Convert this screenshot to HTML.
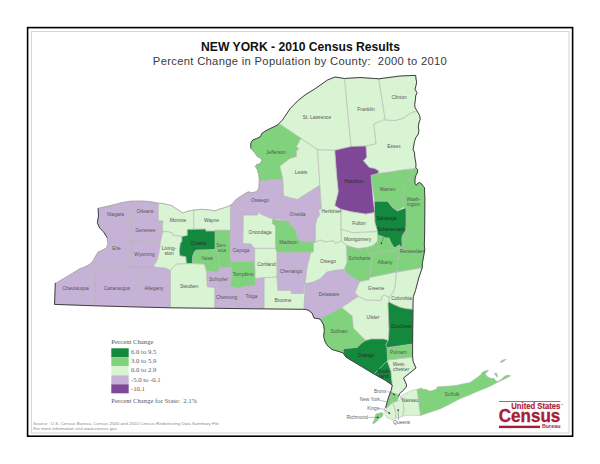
<!DOCTYPE html>
<html><head><meta charset="utf-8"><style>
html,body{margin:0;padding:0;background:#fff;}
body{width:600px;height:464px;overflow:hidden;position:relative;}
svg{position:absolute;left:0;top:0;}
</style></head><body>
<svg width="600" height="464" viewBox="0 0 600 464">
<rect x="0" y="0" width="600" height="464" fill="#fff"/>
<rect x="27.6" y="27.6" width="545" height="408.6" fill="none" stroke="#000" stroke-width="1.6"/>
<rect x="31.5" y="31.5" width="537.5" height="401.5" fill="none" stroke="#d4d4d4" stroke-width="1"/>
<text x="300.5" y="50.6" text-anchor="middle" font-family="'Liberation Sans', sans-serif" font-weight="bold" font-size="12.15" fill="#111">NEW YORK - 2010 Census Results</text>
<text x="300" y="65.1" text-anchor="middle" font-family="'Liberation Sans', sans-serif" font-size="11.2" letter-spacing="0.33" fill="#3a3a3a">Percent Change in Population by County:&#160; 2000 to 2010</text>
<g stroke="none">
<polygon points="98.1,208.3 110.3,205.6 122.4,202.5 130.7,201.2 130.7,222.1 117.7,223.4 111.8,226.0 107.1,225.6 99.6,224.1 97.3,222.6 98.5,216.1" fill="#c6b2d6"/>
<polygon points="130.7,201.2 140.0,201.0 150.0,201.5 158.3,203.3 158.2,219.7 158.3,221.0 130.7,221.8" fill="#c6b2d6"/>
<polygon points="130.7,221.8 158.3,221.0 162.9,220.9 162.3,226.8 162.9,231.6 161.1,238.7 160.5,240.5 130.7,241.0" fill="#c6b2d6"/>
<polygon points="130.7,241.0 160.5,240.5 160.0,245.8 158.8,252.9 157.6,258.8 155.8,262.4 154.0,264.7 153.8,267.1 130.5,267.1" fill="#c6b2d6"/>
<polygon points="99.6,224.1 107.1,225.6 111.8,226.0 117.7,223.4 130.7,222.1 130.7,221.8 130.7,241.0 130.5,267.1 129.9,267.1 113.3,270.2 105.8,271.7 99.8,267.9 95.2,262.6 92.3,261.8 93.5,260.0 95.8,255.8 98.1,252.0 106.4,248.2 107.9,243.7 107.1,237.7 106.4,236.2 103.4,231.7 99.6,227.9 97.3,222.6" fill="#c6b2d6"/>
<polygon points="56.0,283.0 65.1,277.7 72.6,273.2 80.2,268.5 83.0,267.8 89.0,264.8 92.3,261.8 95.2,262.6 94.8,305.8 54.5,304.4 55.3,283.0" fill="#c6b2d6"/>
<polygon points="95.2,262.6 99.8,267.9 105.8,271.7 113.3,270.2 129.9,267.1 138.2,267.1 138.2,307.0 94.8,305.8" fill="#c6b2d6"/>
<polygon points="138.2,267.1 153.8,267.1 165.0,268.0 170.5,270.5 170.5,307.8 138.2,307.0" fill="#c6b2d6"/>
<polygon points="162.9,231.6 167.6,231.6 172.4,232.8 173.0,235.1 177.1,235.7 181.9,236.4 181.9,241.8 180.4,242.8 179.4,250.7 179.9,255.7 185.9,256.7 186.4,263.6 176.4,264.1 172.6,267.5 170.5,270.5 165.0,268.0 153.8,267.1 154.0,264.7 155.8,262.4 157.6,258.8 158.8,252.9 160.0,245.8 160.5,240.5 161.1,238.7" fill="#d9f4d2"/>
<polygon points="158.3,203.3 161.7,203.3 168.3,204.7 172.3,206.0 176.3,208.7 183.0,213.1 187.0,211.3 193.7,210.0 193.7,229.3 187.3,229.4 187.3,235.4 181.9,236.4 177.1,235.7 173.0,235.1 172.4,232.8 167.6,231.6 162.9,231.6 162.3,226.8 162.9,220.9 158.3,221.0" fill="#d9f4d2"/>
<polygon points="193.7,210.0 201.7,209.3 208.3,209.7 215.0,210.9 219.0,209.3 225.7,207.3 229.7,205.6 230.3,205.2 230.6,230.3 215.1,230.3 215.1,231.1 205.9,231.1 205.7,229.1 193.7,229.3" fill="#d9f4d2"/>
<polygon points="187.3,229.4 205.7,229.1 205.9,231.1 215.1,231.1 215.1,249.3 211.6,249.8 196.8,250.0 194.8,251.2 192.8,255.7 192.3,263.6 186.4,263.6 185.9,256.7 179.9,255.7 179.4,250.7 180.4,242.8 181.9,241.8 181.9,236.4 187.3,235.4" fill="#13893d"/>
<polygon points="192.8,255.7 194.8,251.2 196.8,250.0 211.6,249.8 215.1,249.3 216.3,250.5 218.6,255.0 219.4,268.0 217.8,272.4 213.3,271.7 206.5,271.0 204.3,264.1 192.3,263.6" fill="#80d37c"/>
<polygon points="215.1,230.3 230.6,230.3 229.9,240.0 230.4,261.3 231.4,268.0 228.4,267.1 219.4,268.0 218.6,255.0 216.3,250.5 215.1,249.3" fill="#80d37c"/>
<polygon points="176.4,264.1 186.4,263.6 192.3,263.6 204.3,264.1 206.5,271.0 207.3,286.7 214.8,287.5 214.8,308.3 170.5,307.8 170.5,270.5 172.6,267.5" fill="#d9f4d2"/>
<polygon points="206.5,271.0 213.3,271.7 217.8,272.4 219.4,268.0 228.4,267.1 231.4,268.0 231.0,286.7 214.8,287.5 207.3,286.7" fill="#c6b2d6"/>
<polygon points="214.8,287.5 231.0,286.7 238.6,288.2 239.0,308.6 214.8,308.3" fill="#c6b2d6"/>
<polygon points="230.4,261.3 254.6,261.3 255.1,278.4 255.9,285.2 245.0,286.5 238.6,288.2 231.0,286.7 231.4,268.0" fill="#80d37c"/>
<polygon points="238.6,288.2 245.0,286.5 255.9,285.2 255.1,278.4 264.2,277.7 264.0,308.9 239.0,308.6" fill="#c6b2d6"/>
<polygon points="230.3,205.2 232.0,204.3 234.0,201.7 236.5,199.0 236.2,212.6 243.3,212.6 242.8,243.5 250.9,244.1 254.6,248.4 254.6,261.3 230.4,261.3 229.9,240.0 230.6,230.3" fill="#c6b2d6"/>
<polygon points="259.2,180.5 269.2,180.5 270.0,179.0 282.8,179.8 283.6,195.0 280.6,195.1 277.7,208.4 277.7,219.1 272.9,219.1 267.0,216.7 261.1,214.3 258.7,212.0 257.5,215.0 243.3,215.0 243.3,212.6 236.2,212.6 236.5,199.0 240.7,196.3 244.0,194.3 246.7,192.5 249.3,191.7 250.7,192.5 252.7,192.7 256.0,191.7 258.0,190.0 259.0,187.0" fill="#c6b2d6"/>
<polygon points="243.3,215.0 257.5,215.0 258.7,212.0 261.1,214.3 267.0,216.7 272.9,219.1 272.4,223.6 275.6,225.8 275.6,248.4 254.6,248.4 250.9,244.1 242.8,243.5" fill="#d9f4d2"/>
<polygon points="254.6,248.4 275.6,248.4 277.0,252.7 277.0,277.0 264.2,277.7 255.1,278.4 254.6,261.3" fill="#d9f4d2"/>
<polygon points="272.9,219.1 282.0,220.8 288.1,220.8 291.1,225.3 295.7,229.8 297.2,237.4 302.5,241.9 313.5,241.9 313.5,251.8 310.3,252.7 277.0,252.7 275.6,248.4 275.6,225.8 272.4,223.6" fill="#80d37c"/>
<polygon points="277.0,252.7 310.3,252.7 309.4,258.6 307.9,262.6 306.4,272.0 305.2,283.8 304.1,285.2 303.4,293.5 291.3,293.5 291.3,290.5 277.8,290.5 277.0,277.0" fill="#c6b2d6"/>
<polygon points="264.2,277.7 277.0,277.0 277.8,290.5 291.3,290.5 291.3,293.5 303.4,293.5 304.1,285.2 305.2,283.8 304.0,309.3 264.0,308.9" fill="#d9f4d2"/>
<polygon points="280.6,195.1 297.2,199.6 319.8,185.3 321.3,208.7 318.3,210.2 319.8,214.7 316.8,219.2 315.3,225.3 315.3,241.9 313.5,241.9 302.5,241.9 297.2,237.4 295.7,229.8 291.1,225.3 288.1,220.8 282.0,220.8 277.7,219.1 277.7,208.4" fill="#c6b2d6"/>
<polygon points="282.8,179.8 279.8,166.2 289.6,158.6 296.3,156.4 296.3,151.1 298.6,148.8 296.3,146.6 300.9,138.3 317.4,149.6 319.8,185.3 297.2,199.6 280.6,195.1 283.6,195.0" fill="#d9f4d2"/>
<polygon points="265.7,130.8 261.8,133.4 260.5,136.6 256.6,138.6 252.8,139.9 250.8,143.1 250.8,148.3 252.8,150.9 255.3,153.5 257.3,156.7 260.5,158.0 261.8,160.6 259.9,163.8 256.6,164.5 255.3,166.4 257.3,169.6 258.6,174.2 259.2,178.5 259.2,180.5 269.2,180.5 270.0,179.0 282.8,179.8 279.8,166.2 289.6,158.6 296.3,156.4 296.3,151.1 298.6,148.8 296.3,146.6 300.9,138.3 280.0,124.2 277.5,125.0 270.9,128.2" fill="#80d37c"/>
<polygon points="277.5,125.0 282.5,120.0 290.0,108.8 297.5,101.0 305.0,95.0 315.0,88.8 327.5,80.0 335.0,77.0 344.5,78.5 351.0,146.5 334.8,150.3 317.4,149.6 300.9,138.3 280.0,124.2" fill="#d9f4d2"/>
<polygon points="344.5,78.5 360.0,77.5 378.8,78.8 385.0,119.0 373.8,123.8 376.0,143.8 365.9,146.0 351.0,146.5" fill="#d9f4d2"/>
<polygon points="378.8,78.8 400.0,76.0 415.7,75.4 416.0,79.0 416.7,82.3 415.7,86.8 415.0,89.4 417.0,92.6 415.7,95.9 415.4,99.8 414.7,104.3 415.0,107.5 417.4,111.5 412.5,112.0 409.2,114.0 402.8,118.5 395.0,120.5 385.0,120.0 385.0,119.0" fill="#d9f4d2"/>
<polygon points="373.8,123.8 385.0,120.0 395.0,120.5 402.8,118.5 409.2,114.0 412.5,112.0 417.4,111.5 419.6,115.3 420.2,119.2 418.9,123.0 418.3,126.9 418.9,130.2 418.3,134.0 415.7,137.9 414.4,141.8 413.1,149.6 414.4,152.2 415.0,158.6 415.4,160.0 415.9,163.4 415.9,167.8 415.0,168.2 402.9,169.9 390.0,172.1 378.0,173.6 378.8,171.0 374.5,168.4 369.3,167.6 363.3,160.7 366.7,157.2 365.9,146.0 376.0,143.8" fill="#d9f4d2"/>
<polygon points="334.8,150.3 351.0,146.5 365.9,146.0 366.7,157.2 363.3,160.7 369.3,167.6 374.5,168.4 378.8,171.0 378.0,173.6 371.0,175.3 372.8,196.9 374.5,212.4 365.9,214.1 350.3,211.6 340.0,209.0 334.8,205.5 338.3,191.7 336.6,174.5" fill="#7f4897"/>
<polygon points="317.4,149.6 334.8,150.3 336.6,174.5 338.3,191.7 334.8,205.5 340.0,209.0 341.0,209.3 341.0,212.5 340.9,229.1 341.5,241.0 335.5,243.4 333.8,240.9 325.4,241.8 320.3,240.0 314.5,242.6 315.3,241.9 315.3,225.3 316.8,219.2 319.8,214.7 318.3,210.2 321.3,208.7 319.8,185.3" fill="#d9f4d2"/>
<polygon points="340.0,209.0 350.3,211.6 365.9,214.1 374.5,212.4 375.0,222.5 377.6,231.5 352.8,232.7 340.9,229.1 341.0,212.5 341.0,209.3" fill="#d9f4d2"/>
<polygon points="340.9,229.1 352.8,232.7 377.6,231.5 377.6,241.0 372.9,245.7 367.0,247.5 357.5,248.6 346.8,245.7 341.5,241.0" fill="#d9f4d2"/>
<polygon points="371.0,175.3 378.0,173.6 390.0,172.1 402.9,169.9 412.0,169.3 410.7,177.2 407.2,183.3 403.8,187.6 402.9,194.5 402.9,200.0 403.2,207.3 397.5,211.0 392.5,207.5 387.5,201.2 374.5,201.2" fill="#80d37c"/>
<polygon points="412.0,169.3 415.0,168.2 415.9,167.8 417.6,169.5 417.6,172.1 415.9,175.5 415.0,179.0 415.0,183.3 416.3,185.4 417.6,183.3 419.7,182.6 421.5,183.7 422.8,185.9 424.5,187.6 424.9,200.0 424.6,235.0 421.0,235.0 402.5,235.0 404.0,233.6 405.3,229.3 406.2,225.0 406.0,208.8 405.0,208.0 403.2,207.3 402.9,200.0 402.9,194.5 403.8,187.6 407.2,183.3 410.7,177.2" fill="#80d37c"/>
<polygon points="374.5,201.2 387.5,201.2 392.5,207.5 397.5,211.0 405.0,208.0 406.0,208.8 406.2,225.0 405.3,229.3 404.0,233.6 401.9,237.1 401.9,242.2 402.3,246.6 401.0,247.0 399.3,244.8 397.6,246.1 395.0,247.8 393.3,246.6 390.7,242.2 389.0,237.9 385.5,237.9 382.9,236.6 377.8,235.3 377.6,231.5 375.0,222.5 374.5,212.4" fill="#13893d"/>
<polygon points="377.8,235.3 382.9,236.6 385.5,237.9 389.0,237.9 390.7,242.2 393.3,246.6 395.0,247.8 397.6,246.1 399.3,244.8 401.0,247.0 400.2,248.5 399.0,248.6 391.9,250.4 374.1,253.4 368.2,252.8 367.0,247.5 372.9,245.7 377.6,241.0" fill="#80d37c"/>
<polygon points="346.8,245.7 357.5,248.6 367.0,247.5 368.2,252.8 374.1,253.4 371.7,261.1 369.9,277.0 369.1,279.8 362.6,281.0 359.6,281.5 349.0,275.0 344.2,269.7 347.2,262.0 346.4,245.1" fill="#80d37c"/>
<polygon points="374.1,253.4 391.9,250.4 399.0,248.6 400.2,248.5 400.1,250.4 398.7,255.2 397.8,263.5 396.6,270.0 396.3,272.1 369.7,277.4 369.9,277.0 371.7,261.1" fill="#80d37c"/>
<polygon points="402.5,235.0 421.0,235.0 424.6,235.0 424.3,245.0 424.8,250.0 422.3,263.6 422.3,267.8 396.3,272.1 396.6,270.0 397.8,263.5 398.7,255.2 400.1,250.4 400.2,248.5 401.0,247.0 402.3,246.6 401.9,242.2 401.9,237.1 404.0,233.6" fill="#80d37c"/>
<polygon points="314.5,242.6 320.3,240.0 325.4,241.8 333.8,240.9 335.5,243.4 341.5,241.0 346.8,245.7 346.4,245.1 347.2,262.0 343.9,269.5 335.5,270.3 327.0,272.0 320.3,278.7 313.6,282.1 305.2,283.8 306.4,272.0 307.9,262.6 309.4,258.6 310.3,252.7 313.5,251.8 313.5,241.9" fill="#d9f4d2"/>
<polygon points="305.2,283.8 313.6,282.1 320.3,278.7 327.0,272.0 335.5,270.3 343.9,269.5 344.2,269.7 349.0,275.0 359.6,281.5 354.9,292.8 358.4,296.3 341.5,307.5 320.0,319.0 314.0,318.0 312.0,313.0 308.0,310.0 304.0,309.3" fill="#c6b2d6"/>
<polygon points="359.6,281.5 362.6,281.0 369.1,279.8 369.7,277.4 396.3,272.1 395.1,286.9 392.8,292.8 389.2,297.5 384.5,295.2 382.1,296.3 380.9,300.5 365.5,299.9 358.4,296.3 354.9,292.8" fill="#d9f4d2"/>
<polygon points="396.3,272.1 422.3,267.8 419.0,277.0 415.5,290.5 413.3,296.7 413.0,303.3 413.0,309.3 406.7,308.7 400.0,307.3 393.3,304.3 389.0,302.0 389.2,297.5 392.8,292.8 395.1,286.9" fill="#d9f4d2"/>
<polygon points="341.5,307.5 358.4,296.3 365.5,299.9 380.9,300.5 382.1,296.3 384.5,295.2 389.2,297.5 389.0,302.0 388.0,303.0 389.0,330.0 388.3,340.5 383.8,339.0 371.2,339.0 365.6,340.4 362.8,337.6 353.0,328.0 353.0,325.0 352.0,316.0" fill="#d9f4d2"/>
<polygon points="320.0,319.0 341.5,307.5 352.0,316.0 353.0,325.0 353.0,328.0 362.8,337.6 365.6,340.4 361.4,343.2 357.2,347.4 343.2,348.8 343.2,353.0 339.0,351.6 332.0,349.5 327.8,346.0 325.0,341.8 323.6,336.2 324.3,330.6 323.6,325.0 322.0,322.0" fill="#80d37c"/>
<polygon points="388.0,303.0 389.0,302.0 393.3,304.3 400.0,307.3 406.7,308.7 413.0,309.3 412.6,344.0 387.0,347.7 385.7,345.0 388.3,340.5 389.0,330.0" fill="#13893d"/>
<polygon points="387.0,347.7 412.6,344.0 412.6,357.1 387.5,360.1 387.2,351.9" fill="#80d37c"/>
<polygon points="343.2,348.8 357.2,347.4 361.4,343.2 365.6,340.4 371.2,339.0 383.8,339.0 388.3,340.5 385.7,345.0 387.0,347.7 387.2,351.9 387.5,360.1 387.4,360.7 374.0,374.0 360.0,365.6 346.0,357.2 343.2,353.0" fill="#13893d"/>
<polygon points="374.0,374.0 387.4,360.7 387.5,362.0 390.9,371.2 392.3,385.2 385.3,380.3" fill="#13893d"/>
<polygon points="387.5,360.1 412.6,357.1 413.2,361.6 416.0,368.0 403.5,378.0 406.7,385.0 405.9,387.6 402.4,391.0 399.8,393.6 398.5,396.2 398.5,395.3 391.5,392.5 392.5,385.0 392.3,385.2 390.9,371.2" fill="#d9f4d2"/>
<polygon points="391.6,392.6 395.9,393.7 399.2,395.8 398.6,398.0 397.0,401.3 392.7,402.3 390.5,398.0 390.5,395.8" fill="#80d37c"/>
<polygon points="391.6,392.6 390.5,395.8 390.5,398.0 392.7,402.3 389.4,405.6 386.2,408.3 385.6,407.8 388.3,398.0 390.5,391.5" fill="#80d37c"/>
<polygon points="392.7,402.3 397.0,401.3 400.7,399.2 400.7,396.2 403.3,402.2 403.5,404.5 404.0,411.0 402.4,416.4 399.2,417.5 395.9,418.6 395.9,414.3 394.8,408.3" fill="#d9f4d2"/>
<polygon points="389.4,405.6 392.7,402.3 394.8,408.3 395.9,414.3 395.9,418.6 391.6,419.7 386.7,417.5 385.1,413.7 384.5,408.3 386.2,408.3" fill="#d9f4d2"/>
<polygon points="400.7,396.2 403.3,394.5 406.7,392.8 410.2,391.0 416.2,389.3 417.1,389.4 420.5,415.5 414.5,415.4 410.0,415.3 405.9,415.6 402.4,416.4 404.0,411.0 403.5,404.5 403.3,402.2" fill="#d9f4d2"/>
<polygon points="417.1,389.4 421.0,388.0 422.5,388.5 423.0,389.5 425.0,389.0 430.0,391.0 434.0,390.0 436.5,389.0 437.0,387.0 440.0,386.5 450.0,386.0 458.0,385.0 462.0,384.0 470.0,382.5 476.7,377.8 481.0,374.5 482.1,372.3 484.3,371.3 487.5,370.2 488.6,370.7 485.9,372.9 485.3,374.0 487.5,376.7 490.8,378.3 494.0,378.3 495.6,380.5 497.3,381.5 500.5,379.9 504.8,376.1 508.1,375.0 510.8,375.6 509.2,376.7 502.7,379.9 498.3,382.1 487.5,387.5 476.7,391.8 470.0,394.8 460.0,398.8 450.0,404.0 440.0,409.0 428.0,413.0 420.5,415.5" fill="#80d37c"/>
<polygon points="376.4,413.7 381.8,412.6 383.5,413.7 382.4,416.4 379.7,418.6 376.4,421.8 373.2,424.0 372.6,422.9 374.8,418.6 375.3,415.3" fill="#80d37c"/>
<polygon points="494.0,373.5 496.5,373.0 497.8,376.5 496.8,377.2 495.5,375.0" fill="#80d37c"/>
<polygon points="500.0,362.4 502.0,360.3 506.0,359.0 505.0,360.5 501.5,362.5" fill="#80d37c"/>
</g>
<g fill="none" stroke="#b4b4b4" stroke-width="0.45" stroke-linejoin="round">
<polygon points="98.1,208.3 110.3,205.6 122.4,202.5 130.7,201.2 130.7,222.1 117.7,223.4 111.8,226.0 107.1,225.6 99.6,224.1 97.3,222.6 98.5,216.1"/>
<polygon points="130.7,201.2 140.0,201.0 150.0,201.5 158.3,203.3 158.2,219.7 158.3,221.0 130.7,221.8"/>
<polygon points="130.7,221.8 158.3,221.0 162.9,220.9 162.3,226.8 162.9,231.6 161.1,238.7 160.5,240.5 130.7,241.0"/>
<polygon points="130.7,241.0 160.5,240.5 160.0,245.8 158.8,252.9 157.6,258.8 155.8,262.4 154.0,264.7 153.8,267.1 130.5,267.1"/>
<polygon points="99.6,224.1 107.1,225.6 111.8,226.0 117.7,223.4 130.7,222.1 130.7,221.8 130.7,241.0 130.5,267.1 129.9,267.1 113.3,270.2 105.8,271.7 99.8,267.9 95.2,262.6 92.3,261.8 93.5,260.0 95.8,255.8 98.1,252.0 106.4,248.2 107.9,243.7 107.1,237.7 106.4,236.2 103.4,231.7 99.6,227.9 97.3,222.6"/>
<polygon points="56.0,283.0 65.1,277.7 72.6,273.2 80.2,268.5 83.0,267.8 89.0,264.8 92.3,261.8 95.2,262.6 94.8,305.8 54.5,304.4 55.3,283.0"/>
<polygon points="95.2,262.6 99.8,267.9 105.8,271.7 113.3,270.2 129.9,267.1 138.2,267.1 138.2,307.0 94.8,305.8"/>
<polygon points="138.2,267.1 153.8,267.1 165.0,268.0 170.5,270.5 170.5,307.8 138.2,307.0"/>
<polygon points="162.9,231.6 167.6,231.6 172.4,232.8 173.0,235.1 177.1,235.7 181.9,236.4 181.9,241.8 180.4,242.8 179.4,250.7 179.9,255.7 185.9,256.7 186.4,263.6 176.4,264.1 172.6,267.5 170.5,270.5 165.0,268.0 153.8,267.1 154.0,264.7 155.8,262.4 157.6,258.8 158.8,252.9 160.0,245.8 160.5,240.5 161.1,238.7"/>
<polygon points="158.3,203.3 161.7,203.3 168.3,204.7 172.3,206.0 176.3,208.7 183.0,213.1 187.0,211.3 193.7,210.0 193.7,229.3 187.3,229.4 187.3,235.4 181.9,236.4 177.1,235.7 173.0,235.1 172.4,232.8 167.6,231.6 162.9,231.6 162.3,226.8 162.9,220.9 158.3,221.0"/>
<polygon points="193.7,210.0 201.7,209.3 208.3,209.7 215.0,210.9 219.0,209.3 225.7,207.3 229.7,205.6 230.3,205.2 230.6,230.3 215.1,230.3 215.1,231.1 205.9,231.1 205.7,229.1 193.7,229.3"/>
<polygon points="187.3,229.4 205.7,229.1 205.9,231.1 215.1,231.1 215.1,249.3 211.6,249.8 196.8,250.0 194.8,251.2 192.8,255.7 192.3,263.6 186.4,263.6 185.9,256.7 179.9,255.7 179.4,250.7 180.4,242.8 181.9,241.8 181.9,236.4 187.3,235.4"/>
<polygon points="192.8,255.7 194.8,251.2 196.8,250.0 211.6,249.8 215.1,249.3 216.3,250.5 218.6,255.0 219.4,268.0 217.8,272.4 213.3,271.7 206.5,271.0 204.3,264.1 192.3,263.6"/>
<polygon points="215.1,230.3 230.6,230.3 229.9,240.0 230.4,261.3 231.4,268.0 228.4,267.1 219.4,268.0 218.6,255.0 216.3,250.5 215.1,249.3"/>
<polygon points="176.4,264.1 186.4,263.6 192.3,263.6 204.3,264.1 206.5,271.0 207.3,286.7 214.8,287.5 214.8,308.3 170.5,307.8 170.5,270.5 172.6,267.5"/>
<polygon points="206.5,271.0 213.3,271.7 217.8,272.4 219.4,268.0 228.4,267.1 231.4,268.0 231.0,286.7 214.8,287.5 207.3,286.7"/>
<polygon points="214.8,287.5 231.0,286.7 238.6,288.2 239.0,308.6 214.8,308.3"/>
<polygon points="230.4,261.3 254.6,261.3 255.1,278.4 255.9,285.2 245.0,286.5 238.6,288.2 231.0,286.7 231.4,268.0"/>
<polygon points="238.6,288.2 245.0,286.5 255.9,285.2 255.1,278.4 264.2,277.7 264.0,308.9 239.0,308.6"/>
<polygon points="230.3,205.2 232.0,204.3 234.0,201.7 236.5,199.0 236.2,212.6 243.3,212.6 242.8,243.5 250.9,244.1 254.6,248.4 254.6,261.3 230.4,261.3 229.9,240.0 230.6,230.3"/>
<polygon points="259.2,180.5 269.2,180.5 270.0,179.0 282.8,179.8 283.6,195.0 280.6,195.1 277.7,208.4 277.7,219.1 272.9,219.1 267.0,216.7 261.1,214.3 258.7,212.0 257.5,215.0 243.3,215.0 243.3,212.6 236.2,212.6 236.5,199.0 240.7,196.3 244.0,194.3 246.7,192.5 249.3,191.7 250.7,192.5 252.7,192.7 256.0,191.7 258.0,190.0 259.0,187.0"/>
<polygon points="243.3,215.0 257.5,215.0 258.7,212.0 261.1,214.3 267.0,216.7 272.9,219.1 272.4,223.6 275.6,225.8 275.6,248.4 254.6,248.4 250.9,244.1 242.8,243.5"/>
<polygon points="254.6,248.4 275.6,248.4 277.0,252.7 277.0,277.0 264.2,277.7 255.1,278.4 254.6,261.3"/>
<polygon points="272.9,219.1 282.0,220.8 288.1,220.8 291.1,225.3 295.7,229.8 297.2,237.4 302.5,241.9 313.5,241.9 313.5,251.8 310.3,252.7 277.0,252.7 275.6,248.4 275.6,225.8 272.4,223.6"/>
<polygon points="277.0,252.7 310.3,252.7 309.4,258.6 307.9,262.6 306.4,272.0 305.2,283.8 304.1,285.2 303.4,293.5 291.3,293.5 291.3,290.5 277.8,290.5 277.0,277.0"/>
<polygon points="264.2,277.7 277.0,277.0 277.8,290.5 291.3,290.5 291.3,293.5 303.4,293.5 304.1,285.2 305.2,283.8 304.0,309.3 264.0,308.9"/>
<polygon points="280.6,195.1 297.2,199.6 319.8,185.3 321.3,208.7 318.3,210.2 319.8,214.7 316.8,219.2 315.3,225.3 315.3,241.9 313.5,241.9 302.5,241.9 297.2,237.4 295.7,229.8 291.1,225.3 288.1,220.8 282.0,220.8 277.7,219.1 277.7,208.4"/>
<polygon points="282.8,179.8 279.8,166.2 289.6,158.6 296.3,156.4 296.3,151.1 298.6,148.8 296.3,146.6 300.9,138.3 317.4,149.6 319.8,185.3 297.2,199.6 280.6,195.1 283.6,195.0"/>
<polygon points="265.7,130.8 261.8,133.4 260.5,136.6 256.6,138.6 252.8,139.9 250.8,143.1 250.8,148.3 252.8,150.9 255.3,153.5 257.3,156.7 260.5,158.0 261.8,160.6 259.9,163.8 256.6,164.5 255.3,166.4 257.3,169.6 258.6,174.2 259.2,178.5 259.2,180.5 269.2,180.5 270.0,179.0 282.8,179.8 279.8,166.2 289.6,158.6 296.3,156.4 296.3,151.1 298.6,148.8 296.3,146.6 300.9,138.3 280.0,124.2 277.5,125.0 270.9,128.2"/>
<polygon points="277.5,125.0 282.5,120.0 290.0,108.8 297.5,101.0 305.0,95.0 315.0,88.8 327.5,80.0 335.0,77.0 344.5,78.5 351.0,146.5 334.8,150.3 317.4,149.6 300.9,138.3 280.0,124.2"/>
<polygon points="344.5,78.5 360.0,77.5 378.8,78.8 385.0,119.0 373.8,123.8 376.0,143.8 365.9,146.0 351.0,146.5"/>
<polygon points="378.8,78.8 400.0,76.0 415.7,75.4 416.0,79.0 416.7,82.3 415.7,86.8 415.0,89.4 417.0,92.6 415.7,95.9 415.4,99.8 414.7,104.3 415.0,107.5 417.4,111.5 412.5,112.0 409.2,114.0 402.8,118.5 395.0,120.5 385.0,120.0 385.0,119.0"/>
<polygon points="373.8,123.8 385.0,120.0 395.0,120.5 402.8,118.5 409.2,114.0 412.5,112.0 417.4,111.5 419.6,115.3 420.2,119.2 418.9,123.0 418.3,126.9 418.9,130.2 418.3,134.0 415.7,137.9 414.4,141.8 413.1,149.6 414.4,152.2 415.0,158.6 415.4,160.0 415.9,163.4 415.9,167.8 415.0,168.2 402.9,169.9 390.0,172.1 378.0,173.6 378.8,171.0 374.5,168.4 369.3,167.6 363.3,160.7 366.7,157.2 365.9,146.0 376.0,143.8"/>
<polygon points="334.8,150.3 351.0,146.5 365.9,146.0 366.7,157.2 363.3,160.7 369.3,167.6 374.5,168.4 378.8,171.0 378.0,173.6 371.0,175.3 372.8,196.9 374.5,212.4 365.9,214.1 350.3,211.6 340.0,209.0 334.8,205.5 338.3,191.7 336.6,174.5"/>
<polygon points="317.4,149.6 334.8,150.3 336.6,174.5 338.3,191.7 334.8,205.5 340.0,209.0 341.0,209.3 341.0,212.5 340.9,229.1 341.5,241.0 335.5,243.4 333.8,240.9 325.4,241.8 320.3,240.0 314.5,242.6 315.3,241.9 315.3,225.3 316.8,219.2 319.8,214.7 318.3,210.2 321.3,208.7 319.8,185.3"/>
<polygon points="340.0,209.0 350.3,211.6 365.9,214.1 374.5,212.4 375.0,222.5 377.6,231.5 352.8,232.7 340.9,229.1 341.0,212.5 341.0,209.3"/>
<polygon points="340.9,229.1 352.8,232.7 377.6,231.5 377.6,241.0 372.9,245.7 367.0,247.5 357.5,248.6 346.8,245.7 341.5,241.0"/>
<polygon points="371.0,175.3 378.0,173.6 390.0,172.1 402.9,169.9 412.0,169.3 410.7,177.2 407.2,183.3 403.8,187.6 402.9,194.5 402.9,200.0 403.2,207.3 397.5,211.0 392.5,207.5 387.5,201.2 374.5,201.2"/>
<polygon points="412.0,169.3 415.0,168.2 415.9,167.8 417.6,169.5 417.6,172.1 415.9,175.5 415.0,179.0 415.0,183.3 416.3,185.4 417.6,183.3 419.7,182.6 421.5,183.7 422.8,185.9 424.5,187.6 424.9,200.0 424.6,235.0 421.0,235.0 402.5,235.0 404.0,233.6 405.3,229.3 406.2,225.0 406.0,208.8 405.0,208.0 403.2,207.3 402.9,200.0 402.9,194.5 403.8,187.6 407.2,183.3 410.7,177.2"/>
<polygon points="374.5,201.2 387.5,201.2 392.5,207.5 397.5,211.0 405.0,208.0 406.0,208.8 406.2,225.0 405.3,229.3 404.0,233.6 401.9,237.1 401.9,242.2 402.3,246.6 401.0,247.0 399.3,244.8 397.6,246.1 395.0,247.8 393.3,246.6 390.7,242.2 389.0,237.9 385.5,237.9 382.9,236.6 377.8,235.3 377.6,231.5 375.0,222.5 374.5,212.4"/>
<polygon points="377.8,235.3 382.9,236.6 385.5,237.9 389.0,237.9 390.7,242.2 393.3,246.6 395.0,247.8 397.6,246.1 399.3,244.8 401.0,247.0 400.2,248.5 399.0,248.6 391.9,250.4 374.1,253.4 368.2,252.8 367.0,247.5 372.9,245.7 377.6,241.0"/>
<polygon points="346.8,245.7 357.5,248.6 367.0,247.5 368.2,252.8 374.1,253.4 371.7,261.1 369.9,277.0 369.1,279.8 362.6,281.0 359.6,281.5 349.0,275.0 344.2,269.7 347.2,262.0 346.4,245.1"/>
<polygon points="374.1,253.4 391.9,250.4 399.0,248.6 400.2,248.5 400.1,250.4 398.7,255.2 397.8,263.5 396.6,270.0 396.3,272.1 369.7,277.4 369.9,277.0 371.7,261.1"/>
<polygon points="402.5,235.0 421.0,235.0 424.6,235.0 424.3,245.0 424.8,250.0 422.3,263.6 422.3,267.8 396.3,272.1 396.6,270.0 397.8,263.5 398.7,255.2 400.1,250.4 400.2,248.5 401.0,247.0 402.3,246.6 401.9,242.2 401.9,237.1 404.0,233.6"/>
<polygon points="314.5,242.6 320.3,240.0 325.4,241.8 333.8,240.9 335.5,243.4 341.5,241.0 346.8,245.7 346.4,245.1 347.2,262.0 343.9,269.5 335.5,270.3 327.0,272.0 320.3,278.7 313.6,282.1 305.2,283.8 306.4,272.0 307.9,262.6 309.4,258.6 310.3,252.7 313.5,251.8 313.5,241.9"/>
<polygon points="305.2,283.8 313.6,282.1 320.3,278.7 327.0,272.0 335.5,270.3 343.9,269.5 344.2,269.7 349.0,275.0 359.6,281.5 354.9,292.8 358.4,296.3 341.5,307.5 320.0,319.0 314.0,318.0 312.0,313.0 308.0,310.0 304.0,309.3"/>
<polygon points="359.6,281.5 362.6,281.0 369.1,279.8 369.7,277.4 396.3,272.1 395.1,286.9 392.8,292.8 389.2,297.5 384.5,295.2 382.1,296.3 380.9,300.5 365.5,299.9 358.4,296.3 354.9,292.8"/>
<polygon points="396.3,272.1 422.3,267.8 419.0,277.0 415.5,290.5 413.3,296.7 413.0,303.3 413.0,309.3 406.7,308.7 400.0,307.3 393.3,304.3 389.0,302.0 389.2,297.5 392.8,292.8 395.1,286.9"/>
<polygon points="341.5,307.5 358.4,296.3 365.5,299.9 380.9,300.5 382.1,296.3 384.5,295.2 389.2,297.5 389.0,302.0 388.0,303.0 389.0,330.0 388.3,340.5 383.8,339.0 371.2,339.0 365.6,340.4 362.8,337.6 353.0,328.0 353.0,325.0 352.0,316.0"/>
<polygon points="320.0,319.0 341.5,307.5 352.0,316.0 353.0,325.0 353.0,328.0 362.8,337.6 365.6,340.4 361.4,343.2 357.2,347.4 343.2,348.8 343.2,353.0 339.0,351.6 332.0,349.5 327.8,346.0 325.0,341.8 323.6,336.2 324.3,330.6 323.6,325.0 322.0,322.0"/>
<polygon points="388.0,303.0 389.0,302.0 393.3,304.3 400.0,307.3 406.7,308.7 413.0,309.3 412.6,344.0 387.0,347.7 385.7,345.0 388.3,340.5 389.0,330.0"/>
<polygon points="387.0,347.7 412.6,344.0 412.6,357.1 387.5,360.1 387.2,351.9"/>
<polygon points="343.2,348.8 357.2,347.4 361.4,343.2 365.6,340.4 371.2,339.0 383.8,339.0 388.3,340.5 385.7,345.0 387.0,347.7 387.2,351.9 387.5,360.1 387.4,360.7 374.0,374.0 360.0,365.6 346.0,357.2 343.2,353.0"/>
<polygon points="374.0,374.0 387.4,360.7 387.5,362.0 390.9,371.2 392.3,385.2 385.3,380.3"/>
<polygon points="387.5,360.1 412.6,357.1 413.2,361.6 416.0,368.0 403.5,378.0 406.7,385.0 405.9,387.6 402.4,391.0 399.8,393.6 398.5,396.2 398.5,395.3 391.5,392.5 392.5,385.0 392.3,385.2 390.9,371.2"/>
<polygon points="391.6,392.6 395.9,393.7 399.2,395.8 398.6,398.0 397.0,401.3 392.7,402.3 390.5,398.0 390.5,395.8"/>
<polygon points="391.6,392.6 390.5,395.8 390.5,398.0 392.7,402.3 389.4,405.6 386.2,408.3 385.6,407.8 388.3,398.0 390.5,391.5"/>
<polygon points="392.7,402.3 397.0,401.3 400.7,399.2 400.7,396.2 403.3,402.2 403.5,404.5 404.0,411.0 402.4,416.4 399.2,417.5 395.9,418.6 395.9,414.3 394.8,408.3"/>
<polygon points="389.4,405.6 392.7,402.3 394.8,408.3 395.9,414.3 395.9,418.6 391.6,419.7 386.7,417.5 385.1,413.7 384.5,408.3 386.2,408.3"/>
<polygon points="400.7,396.2 403.3,394.5 406.7,392.8 410.2,391.0 416.2,389.3 417.1,389.4 420.5,415.5 414.5,415.4 410.0,415.3 405.9,415.6 402.4,416.4 404.0,411.0 403.5,404.5 403.3,402.2"/>
<polygon points="417.1,389.4 421.0,388.0 422.5,388.5 423.0,389.5 425.0,389.0 430.0,391.0 434.0,390.0 436.5,389.0 437.0,387.0 440.0,386.5 450.0,386.0 458.0,385.0 462.0,384.0 470.0,382.5 476.7,377.8 481.0,374.5 482.1,372.3 484.3,371.3 487.5,370.2 488.6,370.7 485.9,372.9 485.3,374.0 487.5,376.7 490.8,378.3 494.0,378.3 495.6,380.5 497.3,381.5 500.5,379.9 504.8,376.1 508.1,375.0 510.8,375.6 509.2,376.7 502.7,379.9 498.3,382.1 487.5,387.5 476.7,391.8 470.0,394.8 460.0,398.8 450.0,404.0 440.0,409.0 428.0,413.0 420.5,415.5"/>
<polygon points="376.4,413.7 381.8,412.6 383.5,413.7 382.4,416.4 379.7,418.6 376.4,421.8 373.2,424.0 372.6,422.9 374.8,418.6 375.3,415.3"/>
<polygon points="494.0,373.5 496.5,373.0 497.8,376.5 496.8,377.2 495.5,375.0"/>
<polygon points="500.0,362.4 502.0,360.3 506.0,359.0 505.0,360.5 501.5,362.5"/>
</g>
<g fill="none" stroke="#999" stroke-width="0.6" stroke-linejoin="round">
<polyline points="250.8,148.3 252.8,150.9 255.3,153.5 257.3,156.7 260.5,158.0 261.8,160.6 259.9,163.8 256.6,164.5 255.3,166.4 257.3,169.6 258.6,174.2 259.2,178.5 259.2,180.5 259.0,187.0 258.0,190.0 256.0,191.7 252.7,192.7 250.7,192.5 249.3,191.7 246.7,192.5 244.0,194.3 240.7,196.3 236.5,199.0 234.0,201.7 232.0,204.3 229.7,205.6 225.7,207.3 219.0,209.3 215.0,210.9 208.3,209.7 201.7,209.3 193.7,210.0 187.0,211.3 183.0,213.1 176.3,208.7 172.3,206.0 168.3,204.7 161.7,203.3 158.3,203.3 150.0,201.5 140.0,201.0 130.7,201.2 122.4,202.5 110.3,205.6 98.1,208.3"/>
<polyline points="107.1,237.7 107.9,243.7 106.4,248.2 98.1,252.0 95.8,255.8 93.5,260.0 92.3,261.8 89.0,264.8 83.0,267.8 80.2,268.5 72.6,273.2 65.1,277.7 56.0,283.0 55.3,283.0"/>
</g>
<g fill="none" stroke="#262626" stroke-width="0.85" stroke-linejoin="round">
<polyline points="98.1,208.3 98.5,216.1 97.3,222.6 99.6,227.9 103.4,231.7 106.4,236.2 107.1,237.7"/>
<polyline points="55.3,283.0 54.5,304.4 94.8,305.8 138.2,307.0 170.5,307.8 214.8,308.3 239.0,308.6 264.0,308.9 304.0,309.3 308.0,310.0 312.0,313.0 314.0,318.0 320.0,319.0 322.0,322.0 323.6,325.0 324.3,330.6 323.6,336.2 325.0,341.8 327.8,346.0 332.0,349.5 339.0,351.6 343.2,353.0 346.0,357.2 360.0,365.6 374.0,374.0 385.3,380.3 392.3,385.2 391.2,390.2 388.3,398.0 385.6,407.8"/>
<polyline points="398.5,396.2 399.8,393.6 402.4,391.0 405.9,387.6 406.7,385.0 403.5,378.0 416.0,368.0 413.2,361.6 412.6,357.1 412.6,344.0 413.0,309.3 413.0,303.3 413.3,296.7 415.5,290.5 419.0,277.0 422.3,267.8 422.3,263.6 424.8,250.0 424.3,245.0 424.6,235.0 424.9,200.0 424.5,187.6 422.8,185.9 421.5,183.7 419.7,182.6 417.6,183.3 416.3,185.4 415.0,183.3 415.0,179.0 415.9,175.5 417.6,172.1 417.6,169.5 415.9,167.8 415.9,163.4 415.4,160.0 415.0,158.6 414.4,152.2 413.1,149.6 414.4,141.8 415.7,137.9 418.3,134.0 418.9,130.2 418.3,126.9 418.9,123.0 420.2,119.2 419.6,115.3 417.4,111.5 415.0,107.5 414.7,104.3 415.4,99.8 415.7,95.9 417.0,92.6 415.0,89.4 415.7,86.8 416.7,82.3 416.0,79.0 415.7,75.4 400.0,76.0 378.8,78.8 360.0,77.5 344.5,78.5 335.0,77.0 327.5,80.0 315.0,88.8 305.0,95.0 297.5,101.0 290.0,108.8 282.5,120.0 277.5,125.0 270.9,128.2 265.7,130.8 261.8,133.4 260.5,136.6 256.6,138.6 252.8,139.9 250.8,143.1 250.8,148.3"/>
</g>
<g font-family="'Liberation Sans', sans-serif" font-size="4.9" fill="#555" text-anchor="middle">
<text x="115.5" y="215.7">Niagara</text>
<text x="145.0" y="213.2">Orleans</text>
<text x="145.5" y="232.2">Genesee</text>
<text x="116.5" y="249.7">Erie</text>
<text x="144.5" y="255.7">Wyoming</text>
<text x="75.5" y="289.7">Chautauqua</text>
<text x="117.0" y="289.7">Cattaraugus</text>
<text x="154.0" y="289.7">Allegany</text>
<text x="178.0" y="221.7">Monroe</text>
<text x="211.5" y="221.7">Wayne</text>
<text x="169.0" y="250.2">Living-</text>
<text x="169.0" y="255.2">ston</text>
<text x="198.5" y="244.7" fill="#2a2a2a">Ontario</text>
<text x="221.5" y="246.7">Sen-</text>
<text x="222.0" y="252.2">eca</text>
<text x="207.0" y="260.2">Yates</text>
<text x="189.0" y="288.2">Steuben</text>
<text x="218.5" y="280.7">Schuyler</text>
<text x="226.5" y="298.7">Chemung</text>
<text x="251.5" y="298.2">Tioga</text>
<text x="243.0" y="276.2">Tompkins</text>
<text x="241.0" y="251.7">Cayuga</text>
<text x="266.5" y="265.7">Cortland</text>
<text x="260.0" y="234.2">Onondaga</text>
<text x="283.0" y="302.2">Broome</text>
<text x="291.0" y="273.2">Chenango</text>
<text x="260.0" y="201.7">Oswego</text>
<text x="297.5" y="216.2">Oneida</text>
<text x="288.5" y="243.7">Madison</text>
<text x="301.0" y="174.2">Lewis</text>
<text x="276.0" y="153.7">Jefferson</text>
<text x="317.0" y="119.2">St. Lawrence</text>
<text x="366.0" y="111.2">Franklin</text>
<text x="399.0" y="98.7">Clinton</text>
<text x="394.0" y="147.7">Essex</text>
<text x="354.0" y="183.2" fill="#2a2a2a">Hamilton</text>
<text x="387.5" y="190.7">Warren</text>
<text x="413.5" y="200.7">Wash-</text>
<text x="413.5" y="205.7">ington</text>
<text x="386.5" y="219.7" fill="#2a2a2a">Saratoga</text>
<text x="391.5" y="230.7" fill="#2a2a2a">Schenectady</text>
<text x="331.5" y="213.2">Herkimer</text>
<text x="359.0" y="225.2">Fulton</text>
<text x="357.5" y="241.2">Montgomery</text>
<text x="328.0" y="262.7">Otsego</text>
<text x="359.5" y="259.7">Schoharie</text>
<text x="385.0" y="264.2">Albany</text>
<text x="412.0" y="253.2">Rensselaer</text>
<text x="376.0" y="290.2">Greene</text>
<text x="401.5" y="299.7">Columbia</text>
<text x="329.0" y="295.7">Delaware</text>
<text x="373.0" y="319.2">Ulster</text>
<text x="339.0" y="332.7">Sullivan</text>
<text x="401.5" y="328.2" fill="#2a2a2a">Dutchess</text>
<text x="366.0" y="356.7" fill="#2a2a2a">Orange</text>
<text x="384.0" y="372.7" fill="#2a2a2a">Rock-</text>
<text x="384.0" y="377.7" fill="#2a2a2a">land</text>
<text x="398.5" y="354.2">Putnam</text>
<text x="399.0" y="365.7">West-</text>
<text x="401.0" y="370.7">chester</text>
<text x="410.0" y="401.7">Nassau</text>
<text x="452.0" y="395.7">Suffolk</text>
<text x="401.5" y="424.2">Queens</text>
</g>
<g font-family="'Liberation Sans', sans-serif" font-size="4.8" fill="#666" text-anchor="end">
<text x="386.5" y="393.2">Bronx</text>
<text x="380.0" y="401.2">New York</text>
<text x="379.2" y="410.0">Kings</text>
<text x="368.0" y="419.2">Richmond</text>
</g>
<g fill="none" stroke="#555" stroke-width="0.4">
<polyline points="387.3,391.4 390.5,392.6 394.8,394.8"/>
<polyline points="380.2,400.2 386.2,401.8"/>
<polyline points="378.6,408.3 384.0,409.4 390.0,413.7"/>
<polyline points="368.3,417.4 378.5,417.4"/>
<polyline points="398.6,419.9 398.1,409.4"/>
<polyline points="386.0,231.0 381.1,244.0"/>
<line x1="394.8" y1="394.8" x2="393.3" y2="393.9" stroke="#222" stroke-width="1.1"/>
<line x1="390.0" y1="413.7" x2="388.6" y2="412.5" stroke="#222" stroke-width="1.1"/>
<line x1="378.5" y1="417.4" x2="376.8" y2="417.4" stroke="#222" stroke-width="1.1"/>
<line x1="398.1" y1="409.4" x2="398.2" y2="411.0" stroke="#222" stroke-width="1.1"/>
<line x1="381.1" y1="244.0" x2="381.5" y2="242.6" stroke="#222" stroke-width="1.1"/>
</g>
<!-- legend -->
<g font-family="'Liberation Serif', serif" font-size="6.7" fill="#5a5a5a">
<text x="111.3" y="344.0">Percent Change</text>
<rect x="111.3" y="348.3" width="17.4" height="9" fill="#13893d"/>
<rect x="111.3" y="357.3" width="17.4" height="9" fill="#80d37c"/>
<rect x="111.3" y="366.3" width="17.4" height="9" fill="#d9f4d2"/>
<rect x="111.3" y="375.3" width="17.4" height="9" fill="#c6b2d6"/>
<rect x="111.3" y="384.3" width="17.4" height="9" fill="#7f4897"/>
<text x="131" y="354.3">6.0 to 9.5</text>
<text x="131" y="363.2">3.0 to 5.9</text>
<text x="131" y="372.2">0.0 to 2.9</text>
<text x="131" y="381.5">-5.0 to -0.1</text>
<text x="131" y="390.6">-10.1</text>
<text x="111.3" y="402.5">Percent Change for State:&#160; 2.1%</text>
</g>
<g font-family="'Liberation Sans', sans-serif" font-size="4.4" fill="#8a8a8a">
<text x="33.3" y="424.9">Source:&#160; U.S. Census Bureau, Census 2000 and 2010 Census Redistricting Data Summary File</text>
<text x="33.3" y="429.8">For more information visit www.census.gov.</text>
</g>
<!-- census logo -->
<g fill="#aa1c34">
<rect x="499" y="401" width="61.4" height="0.9" fill="#c0485a"/>
<text x="511.3" y="409.4" font-family="'Liberation Sans', sans-serif" font-weight="bold" font-size="8.2" textLength="49" lengthAdjust="spacingAndGlyphs" stroke="#aa1c34" stroke-width="0.15">United States</text>
<text x="560.5" y="405.5" font-family="'Liberation Sans', sans-serif" font-size="3">&#8482;</text>
<text x="498.8" y="422" font-family="'Liberation Sans', sans-serif" font-weight="bold" font-size="17.6" textLength="61.5" lengthAdjust="spacingAndGlyphs" stroke="#aa1c34" stroke-width="0.35">Census</text>
<rect x="499" y="425.7" width="41" height="2.4"/>
<text x="542" y="428.3" font-family="'Liberation Sans', sans-serif" font-weight="bold" font-size="4.8" textLength="18.4" lengthAdjust="spacingAndGlyphs">Bureau</text>
</g>
</svg>
</body></html>
